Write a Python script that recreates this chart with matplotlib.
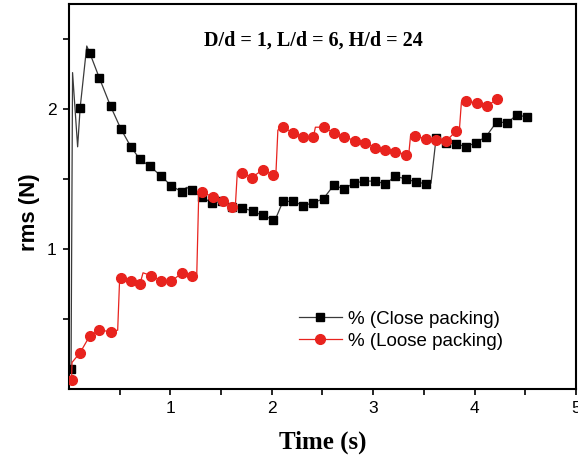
import matplotlib
matplotlib.use("Agg")
import matplotlib.pyplot as plt
import numpy as np

# ---- data ----
close_x = [0.02, 0.11, 0.205, 0.30, 0.41, 0.51, 0.61, 0.70, 0.80, 0.91, 1.01, 1.11, 1.21,
           1.31, 1.41, 1.51, 1.61, 1.71, 1.81, 1.91, 2.01, 2.11, 2.21, 2.31, 2.41, 2.51,
           2.61, 2.71, 2.81, 2.91, 3.02, 3.12, 3.22, 3.32, 3.42, 3.52, 3.62, 3.72, 3.82,
           3.92, 4.01, 4.11, 4.22, 4.32, 4.42, 4.52]
close_y = [0.14, 2.01, 2.40, 2.22, 2.02, 1.86, 1.73, 1.64, 1.59, 1.52, 1.45, 1.41, 1.42,
           1.37, 1.33, 1.34, 1.30, 1.295, 1.27, 1.24, 1.21, 1.34, 1.34, 1.31, 1.33, 1.36,
           1.455, 1.43, 1.47, 1.485, 1.485, 1.465, 1.52, 1.50, 1.48, 1.465, 1.79, 1.76, 1.75,
           1.73, 1.76, 1.80, 1.91, 1.90, 1.96, 1.94]
# extra vertices of the thin connecting line (spikes / steps between markers)
close_line_extra_x = [0.035, 0.085, 0.175, 1.16, 2.04, 3.57]
close_line_extra_y = [2.26, 1.73, 2.45, 1.44, 1.22, 1.47]

loose_x = [0.025, 0.11, 0.205, 0.30, 0.41, 0.51, 0.61, 0.70, 0.81, 0.91, 1.01, 1.115, 1.21,
           1.31, 1.42, 1.52, 1.61, 1.71, 1.80, 1.91, 2.01, 2.11, 2.21, 2.31, 2.41, 2.51,
           2.61, 2.71, 2.82, 2.92, 3.02, 3.12, 3.22, 3.32, 3.41, 3.52, 3.62, 3.72, 3.82,
           3.92, 4.02, 4.12, 4.22]
loose_y = [0.064, 0.26, 0.38, 0.42, 0.41, 0.795, 0.77, 0.75, 0.81, 0.77, 0.77, 0.83, 0.81,
           1.41, 1.37, 1.34, 1.30, 1.545, 1.51, 1.565, 1.53, 1.87, 1.83, 1.80, 1.80, 1.87,
           1.83, 1.80, 1.775, 1.755, 1.725, 1.71, 1.695, 1.675, 1.81, 1.785, 1.78, 1.77, 1.845,
           2.06, 2.04, 2.02, 2.07]
loose_line_extra_x = [0.03, 0.48, 0.50, 0.73, 1.26, 1.28, 1.64, 1.66, 2.04, 2.06, 2.43,
                      3.35, 3.37, 3.85, 3.87]
loose_line_extra_y = [0.19, 0.42, 0.80, 0.83, 0.82, 1.41, 1.30, 1.55, 1.53, 1.85, 1.87,
                      1.67, 1.82, 1.85, 2.05]

label_close = "% (Close packing)"
label_loose = "% (Loose packing)"
annotation = "D/d = 1, L/d = 6, H/d = 24"


def merged(xs, ys, ex, ey):
    pts = sorted(list(zip(xs, ys)) + list(zip(ex, ey)))
    return [p[0] for p in pts], [p[1] for p in pts]


plt.rcParams['font.family'] = ['Liberation Sans', 'DejaVu Sans']

fig = plt.figure(figsize=(5.78, 4.61), dpi=100)
ax = fig.add_axes([0.1194, 0.1562, 0.8771, 0.8351])

red = '#e8231e'
clx, cly = merged(close_x, close_y, close_line_extra_x, close_line_extra_y)
llx, lly = merged(loose_x, loose_y, loose_line_extra_x, loose_line_extra_y)

ax.plot(clx, cly, color='#3a3a3a', lw=0.9, zorder=2)
ax.plot(close_x, close_y, ls='none', marker='s', ms=5.8, color='black', zorder=3)
ax.plot(llx, lly, color=red, lw=0.9, zorder=4)
ax.plot(loose_x, loose_y, ls='none', marker='o', ms=7, color=red, zorder=5)

# legend proxies
h1, = ax.plot([], [], color='#3a3a3a', lw=0.9, marker='s', ms=5.8, mfc='black', mec='black')
h2, = ax.plot([], [], color=red, lw=0.9, marker='o', ms=7, mfc=red, mec=red)
leg = ax.legend([h1, h2], [label_close, label_loose], loc='upper left',
                bbox_to_anchor=(0.438, 0.223), frameon=False, fontsize=13.5,
                handlelength=2.3, handletextpad=0.35, labelspacing=0.25, borderaxespad=0)

ax.set_xlim(0, 5)
ax.set_ylim(0, 2.75)
ax.set_xticks([0.5, 1, 1.5, 2, 2.5, 3, 3.5, 4, 4.5, 5])
ax.set_xticklabels(['', '1', '', '2', '', '3', '', '4', '', '5'])
ax.set_yticks([0.5, 1, 1.5, 2, 2.5])
ax.set_yticklabels(['', '1', '', '2', ''])
ax.tick_params(direction='out', length=4, width=1.2, labelsize=12.5, pad=5)
for s in ax.spines.values():
    s.set_linewidth(1.5)

ax.set_xlabel('Time (s)', family=['Liberation Serif'], fontweight='bold', fontsize=18, labelpad=10)
ax.set_ylabel('rms (N)', fontweight='bold', fontsize=16)
ax.yaxis.set_label_coords(-0.058, 0.46)

ax.text(0.482, 0.906, annotation, transform=ax.transAxes, ha='center', va='center',
        family=['Liberation Serif'], fontweight='bold', fontsize=14.5)

fig.savefig('out.png', dpi=100)
